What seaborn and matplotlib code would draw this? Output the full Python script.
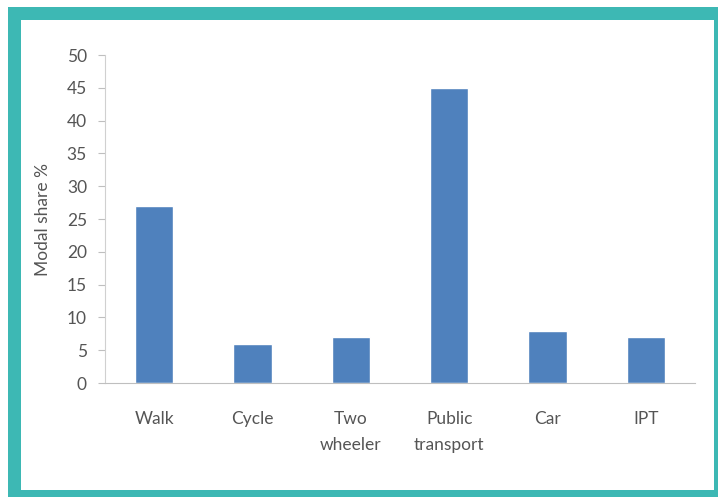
import matplotlib
matplotlib.use("Agg")
import matplotlib.pyplot as plt
from matplotlib.patches import Rectangle
import seaborn as sns
import pandas as pd

categories = ["Walk", "Cycle", "Two\nwheeler", "Public\ntransport", "Car", "IPT"]
modal_share = [27, 6, 7, 45, 8, 7]
y_ticks = [0, 5, 10, 15, 20, 25, 30, 35, 40, 45, 50]

sns.set_theme(style="white")
plt.rcParams["font.family"] = ["Lato", "DejaVu Sans"]

W, H = 718, 497
fig = plt.figure(figsize=(W / 100, H / 100), dpi=100)
fig.patch.set_facecolor("white")

# Teal frame around a white panel, kept behind the axes
def px_rect(x0, y0, x1, y1, color, z):
    fig.patches.append(Rectangle((x0 / W, 1 - y1 / H), (x1 - x0) / W, (y1 - y0) / H,
                                 transform=fig.transFigure, facecolor=color,
                                 edgecolor="none", zorder=z))

px_rect(8, 7, 718, 497, "#3db8b4", -20)
px_rect(21, 20, 714, 490, "white", -10)

ax = fig.add_axes([105 / W, (H - 383) / H, 590 / W, 328 / H])
ax.set_facecolor("none")

df = pd.DataFrame({"mode": categories, "share": modal_share})
sns.barplot(data=df, x="mode", y="share", color="#4F81BD", saturation=1,
            width=0.39, ax=ax)

text_color = "#555555"
fs = 12.5
ax.set_xlim(-0.5, len(categories) - 0.5)
ax.set_ylim(0, 50)
ax.set_yticks(y_ticks)
ax.tick_params(axis="y", left=True, length=5, width=0.8, color="#bfbfbf",
               labelsize=fs, labelcolor=text_color, pad=8)
ax.tick_params(axis="x", bottom=False, labelsize=fs, labelcolor=text_color, pad=14)
for lbl in ax.get_xticklabels():
    lbl.set_linespacing(1.8)
    lbl.set_verticalalignment("top")

ax.set_xlabel("")
ax.set_ylabel("Modal share %", fontsize=fs, color=text_color, labelpad=11)

for side in ["top", "right"]:
    ax.spines[side].set_visible(False)
ax.spines["left"].set_color("#d0d0d0")
ax.spines["bottom"].set_color("#bfbfbf")
ax.spines["left"].set_linewidth(0.8)
ax.spines["bottom"].set_linewidth(0.8)

fig.savefig("out.png", dpi=100, facecolor="white")
